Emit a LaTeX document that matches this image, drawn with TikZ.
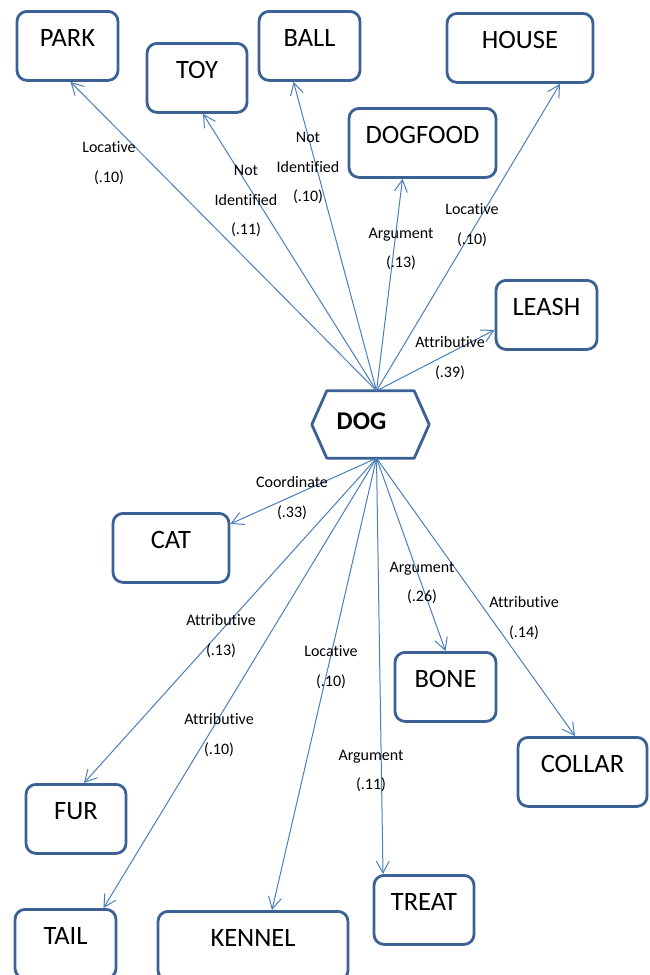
\documentclass[tikz,border=0pt]{standalone}
\usepackage{fontspec}
\setmainfont{Carlito}[Ligatures=NoCommon]
\usetikzlibrary{arrows.meta,calc}
\definecolor{boxblue}{HTML}{3B6195}
\definecolor{linkblue}{HTML}{4A7EBB}
\begin{document}
\begin{tikzpicture}[x=1pt,y=-1pt,
 box/.style={draw=boxblue, line width=2.8pt, rounded corners=10pt, fill=white, inner sep=0pt,
   text height=35pt, text depth=34pt, font=\fontsize{26.5}{30}\selectfont, anchor=north},
 lbl/.style={align=center, font=\fontsize{16}{29.5}\selectfont, inner sep=0pt},
 link/.style={draw=linkblue, line width=1pt, -{Straight Barb[length=12pt,width=13pt]}}
]
\useasboundingbox (0,0) rectangle (649,975);
\clip (0,0) rectangle (649,975);

% boxes
\node[box, minimum width=101pt] (park) at (67.5,10) {PARK};
\node[box, minimum width=100pt] (toy) at (197,42) {TOY};
\node[box, minimum width=101pt] (ball) at (309.5,10) {BALL};
\node[box, minimum width=146pt] (house) at (520,12) {HOUSE};
\node[box, minimum width=147pt] (dogfood) at (422.5,107) {DOGFOOD};
\node[box, minimum width=101pt] (leash) at (546.5,279) {LEASH};
\node[box, minimum width=116pt] (cat) at (171,512) {CAT};
\node[box, minimum width=101pt] (bone) at (445.5,651) {BONE};
\node[box, minimum width=129pt] (collar) at (582.5,736) {COLLAR};
\node[box, minimum width=100pt] (fur) at (76,783) {FUR};
\node[box, minimum width=100pt] (treat) at (424,874) {TREAT};
\node[box, minimum width=101pt] (tail) at (65.5,908) {TAIL};
\node[box, minimum width=190pt] (kennel) at (253,910) {KENNEL};

% DOG hexagon
\node[inner sep=0pt, minimum width=117pt, minimum height=67pt] (dog) at (370.5,424.5) {};
\draw[boxblue, line width=2.8pt, line join=round] (dog.west) -- ($(dog.north west)+(15,0)$) -- ($(dog.north east)+(-15,0)$)
  -- (dog.east) -- ($(dog.south east)+(-15,0)$) -- ($(dog.south west)+(15,0)$) -- cycle;
\node[inner sep=0pt, font=\fontsize{25.5}{30}\selectfont\bfseries] (doglbl) at (361.5,421.5) {DOG};

\coordinate (dtop) at ($(dog.north)+(6,0)$);
\coordinate (dbot) at ($(dog.south)+(6,0)$);

% upper links
\draw[link] (dtop) -- ($(park.south)+(3,0)$);
\draw[link] (dtop) -- ($(toy.south)+(6,0)$);
\draw[link] (dtop) -- ($(ball.south)+(-16,0)$);
\draw[link] (dtop) -- ($(dogfood.south)+(-20,0)$);
\draw[link] (dtop) -- ($(house.south)+(40,0)$);
\draw[link] (dtop) -- ($(leash.west)+(0,15)$);

% lower links
\draw[link] (dbot) -- ($(cat.east)+(0,-24)$);
\draw[link] (dbot) -- (bone.north);
\draw[link] (dbot) -- ($(collar.north)+(-7.5,0)$);
\draw[link] (dbot) -- ($(fur.north)+(8,0)$);
\draw[link] (dbot) -- ($(tail.north)+(38,0)$);
\draw[link] (dbot) -- ($(kennel.north)+(19,0)$);
\draw[link] (dbot) -- ($(treat.north)+(-41,0)$);

% labels
\node[lbl] (l1) at (109,163) {Locative\\(.10)};
\node[lbl] (l2) at (246,201) {Not\\Identified\\(.11)};
\node[lbl] (l3) at (308,168) {Not\\Identified\\(.10)};
\node[lbl] (l4) at (401,249) {Argument\\(.13)};
\node[lbl] (l5) at (472,225) {Locative\\(.10)};
\node[lbl] (l6) at (450,358) {Attributive\\(.39)};
\node[lbl] (l7) at (292,498) {Coordinate\\(.33)};
\node[lbl] (l8) at (422,583) {Argument\\(.26)};
\node[lbl] (l9) at (524,618) {Attributive\\(.14)};
\node[lbl] (l10) at (221,636) {Attributive\\(.13)};
\node[lbl] (l11) at (331,667) {Locative\\(.10)};
\node[lbl] (l12) at (219,735) {Attributive\\(.10)};
\node[lbl] (l13) at (371,771) {Argument\\(.11)};
\end{tikzpicture}
\end{document}
